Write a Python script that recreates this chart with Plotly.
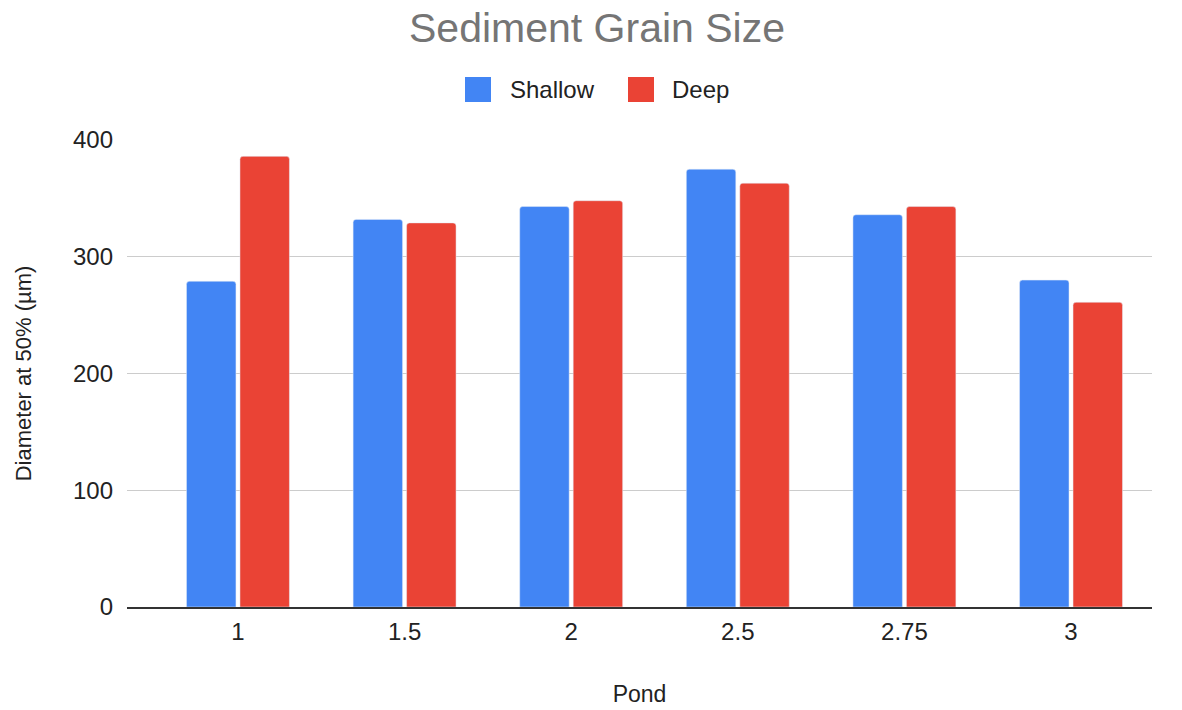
import plotly.graph_objects as go

ponds = ["1", "1.5", "2", "2.5", "2.75", "3"]
shallow = [279, 332, 343, 375, 336, 280]
deep = [386, 329, 348, 363, 343, 261]
y_ticks = [0, 100, 200, 300, 400]

BLUE = "#4285F4"
RED = "#EA4335"
FONT = "Arial, Liberation Sans, sans-serif"

W, H = 1182, 710
PL, PR, PT, PB = 127, 1152, 140, 607  # plot box in px

fig = go.Figure()
fig.add_trace(go.Bar(x=ponds, y=shallow, name="Shallow", marker_color=BLUE, showlegend=False))
fig.add_trace(go.Bar(x=ponds, y=deep, name="Deep", marker_color=RED, showlegend=False))

fig.update_layout(
    width=W, height=H,
    margin=dict(l=PL, r=W - PR, t=PT, b=H - PB, autoexpand=False),
    paper_bgcolor="white", plot_bgcolor="white",
    barmode="group", bargap=0.358, bargroupgap=0.075, barcornerradius=3,
    font=dict(family=FONT, size=24, color="#222222"),
    title=dict(text="Sediment Grain Size", x=597 / W, xanchor="center",
               y=1 - 28 / H, yanchor="middle",
               font=dict(family=FONT, size=41, color="#757575")),
    xaxis=dict(type="category", range=[-0.666, 5.486], showgrid=False,
               showline=True, linecolor="#333333", linewidth=1.5,
               ticklabelstandoff=2,
               tickfont=dict(size=24, color="#222222"),
               title=dict(text="Pond", font=dict(size=23, color="#222222"), standoff=42)),
    yaxis=dict(range=[0, 400], tickvals=y_ticks, ticktext=[str(v) for v in y_ticks],
               showgrid=True, gridcolor="#cccccc", gridwidth=1, zeroline=False,
               showline=False, ticklabelstandoff=13,
               tickfont=dict(size=24, color="#222222"),
               title=dict(text="Diameter at 50% (µm)", font=dict(size=22, color="#222222"), standoff=35)),
)

# custom legend (positions in px)
pw, ph = PR - PL, PB - PT
legend_items = [("Shallow", BLUE, 465, 508), ("Deep", RED, 628, 670)]
for name, color, sx, tx in legend_items:
    fig.add_shape(type="rect", xref="paper", yref="paper",
                  x0=(sx - PL) / pw, x1=(sx + 26 - PL) / pw,
                  y0=(PB - 102) / ph, y1=(PB - 77) / ph,
                  fillcolor=color, line=dict(width=0), layer="above")
    fig.add_annotation(text=name, xref="paper", yref="paper",
                       x=(tx - PL) / pw, y=(PB - 89.5) / ph,
                       xanchor="left", yanchor="middle", showarrow=False,
                       font=dict(size=24, color="#222222", family=FONT))

fig.write_html("out.html", config={"displayModeBar": False},
               post_script="document.body.style.margin='0';")
